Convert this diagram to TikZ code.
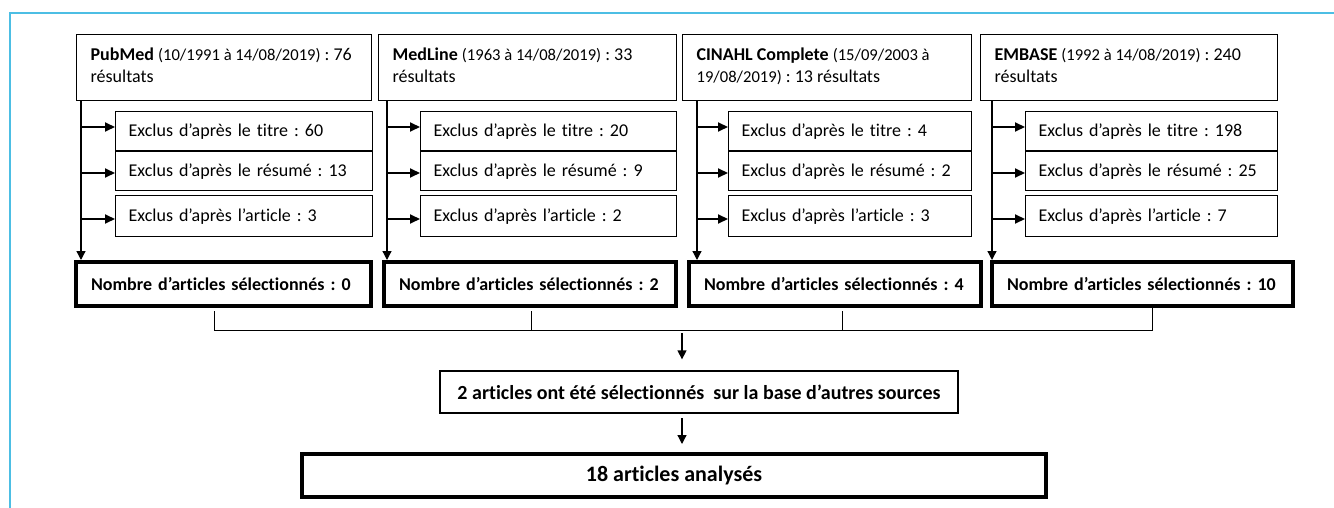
\documentclass[tikz,border=0pt]{standalone}
\usepackage{fontspec}
\setmainfont{Carlito}[Ligatures={NoCommon}]
\usetikzlibrary{arrows.meta,calc}
\definecolor{framec}{RGB}{76,190,228}
\newcommand{\dtf}{\fontsize{16.6}{22}\selectfont}
\newcommand{\topcontent}[2]{\parbox[t][66pt][t]{#1}{\raggedright\fontsize{18}{22}\selectfont\rule{0pt}{26pt}#2}}
\frenchspacing
\begin{document}
\begin{tikzpicture}[x=1pt,y=-1pt,
  frameline/.style={draw=framec, line width=1.5pt},
  topbox/.style={draw, line width=1.3pt, anchor=north west, inner xsep=14pt, inner ysep=0pt, font=\frenchspacing\fontsize{18}{22}\selectfont},
  exbox/.style={draw, line width=1.3pt, anchor=north west, inner xsep=13pt, inner ysep=0pt, align=left, font=\frenchspacing\fontsize{18}{22}\selectfont},
  selbox/.style={draw, line width=4pt, anchor=north west, minimum height=44pt, inner xsep=15pt, inner ysep=0pt, align=left, font=\frenchspacing\bfseries\fontsize{18}{22}\selectfont},
  midbox/.style={draw, line width=1.3pt, minimum width=518pt, minimum height=42pt, inner sep=0pt, font=\frenchspacing\bfseries\fontsize{20}{24}\selectfont},
  finbox/.style={draw, line width=4pt, minimum width=744pt, minimum height=43pt, inner sep=0pt, font=\frenchspacing\bfseries\fontsize{22}{26}\selectfont},
  vline/.style={line width=1.3pt, -{Triangle[length=9pt,width=9pt]}},
  harr/.style={line width=2pt, -{Triangle[length=10pt,width=9pt]}},
  thinline/.style={line width=1pt},
  darr/.style={line width=1.3pt, -{Triangle[length=9pt,width=9pt]}}
]
\useasboundingbox (0,0) rectangle (1334,508);
\draw[frameline] (1334,13) -- (10,13) -- (10,508);

% top boxes
\node[topbox] (t1) at (76,34) {\topcontent{267pt}{\mbox{\textbf{PubMed} {\dtf(10/1991 à 14/08/2019)} : 76}\\résultats}};
\node[topbox] (t2) at (378,34) {\topcontent{270pt}{\mbox{\textbf{MedLine} {\dtf(1963 à 14/08/2019)} : 33}\\résultats}};
\node[topbox] (t3) at (682,34) {\topcontent{261pt}{\mbox{\textbf{CINAHL Complete} {\dtf(15/09/2003 à}}\\\mbox{{\dtf19/08/2019)} : 13 résultats}}};
\node[topbox] (t4) at (980,34) {\topcontent{269pt}{\mbox{\textbf{EMBASE} {\dtf(1992 à 14/08/2019)} : 240}\\résultats}};

% exclusion boxes
\node[exbox, text width=231pt, minimum height=39pt] (e11) at (115,111) {Exclus d’après le titre : 60};
\node[exbox, text width=231pt, minimum height=39pt] (e12) at (115,151) {Exclus d’après le résumé : 13};
\node[exbox, text width=231pt, minimum height=41pt] (e13) at (115,195) {Exclus d’après l’article : 3};

\node[exbox, text width=230pt, minimum height=39pt] (e21) at (420,111) {Exclus d’après le titre : 20};
\node[exbox, text width=230pt, minimum height=39pt] (e22) at (420,151) {Exclus d’après le résumé : 9};
\node[exbox, text width=230pt, minimum height=41pt] (e23) at (420,195) {Exclus d’après l’article : 2};

\node[exbox, text width=217pt, minimum height=39pt] (e31) at (728,111) {Exclus d’après le titre : 4};
\node[exbox, text width=217pt, minimum height=39pt] (e32) at (728,151) {Exclus d’après le résumé : 2};
\node[exbox, text width=217pt, minimum height=41pt] (e33) at (728,195) {Exclus d’après l’article : 3};

\node[exbox, text width=226pt, minimum height=39pt] (e41) at (1025,111) {Exclus d’après le titre : 198};
\node[exbox, text width=226pt, minimum height=39pt] (e42) at (1025,151) {Exclus d’après le résumé : 25};
\node[exbox, text width=226pt, minimum height=41pt] (e43) at (1025,195) {Exclus d’après l’article : 7};

% selection boxes
\node[selbox, text width=265pt] (s1) at (74,260) {\mbox{Nombre d’articles sélectionnés : 0}};
\node[selbox, text width=262pt] (s2) at (382,260) {\mbox{Nombre d’articles sélectionnés : 2}};
\node[selbox, text width=262pt] (s3) at (687,260) {\mbox{Nombre d’articles sélectionnés : 4}};
\node[selbox, text width=271pt] (s4) at (990,260) {\mbox{Nombre d’articles sélectionnés : 10}};

% middle and final
\node[midbox] (m) at (699,392) {2 articles ont été sélectionnés~ sur la base d’autres sources};
\node[finbox] (f) at (674,475.5) {18 articles analysés};

% vertical lines and horizontal arrows
\foreach \i/\x in {1/81,2/387,3/697,4/992} {
  \coordinate (v\i) at (\x,100);
  \draw[vline] (t\i.south -| v\i) -- (s\i.north -| v\i);
  \foreach \j/\y in {1/127,2/173,3/219} {
    \coordinate (h\i\j) at (\x,\y);
    \draw[harr] (h\i\j) -- (e\i\j.west |- h\i\j);
  }
}

% bracket
\coordinate (b1) at (214,330);
\coordinate (b2) at (531,330);
\coordinate (b3) at (842,330);
\coordinate (b4) at (1152,330);
\draw[thinline, shorten <=3pt] (s1.south -| b1) -- (b1) -- (b4) -- (s4.south -| b4);
\draw[thinline, shorten <=3pt] (s2.south -| b2) -- (b2);
\draw[thinline, shorten <=3pt] (s3.south -| b3) -- (b3);

% arrows to middle and final
\coordinate (a1) at (682,333);
\draw[darr, shorten >=11pt] (a1) -- (a1 |- m.north);
\coordinate (a2) at (682,418);
\draw[darr, shorten >=8pt] (a2) -- (a2 |- f.north);
\end{tikzpicture}
\end{document}
